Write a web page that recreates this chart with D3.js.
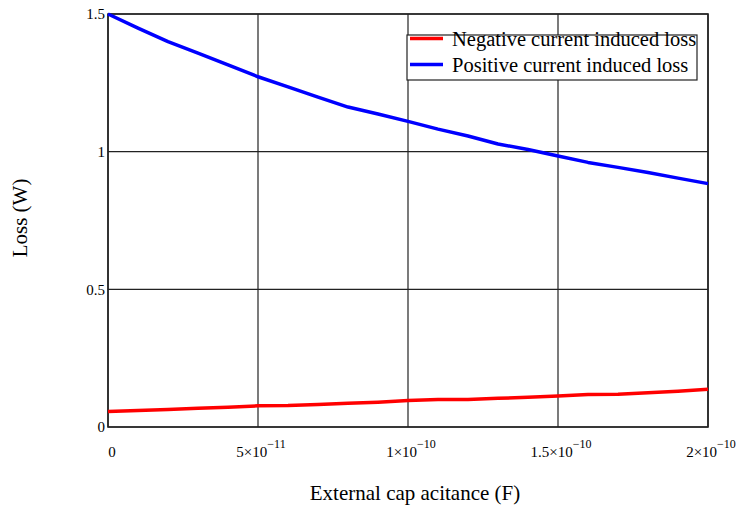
<!DOCTYPE html>
<html><head><meta charset="utf-8">
<script src="https://cdn.jsdelivr.net/npm/d3@7"></script>
<style>body{margin:0;background:#fff}svg{display:block}text{font-family:"Liberation Serif","Times New Roman",serif;fill:#000}</style>
</head><body><svg id="c" width="740" height="508"></svg>
<script>
const capacitance = d3.range(21).map(k => k * 1e-11);
const negativeLoss = [0.056,0.060,0.064,0.068,0.072,0.077,0.078,0.082,0.086,0.090,0.096,0.100,0.100,0.104,0.108,0.113,0.118,0.119,0.124,0.130,0.137];
const positiveLoss = [1.500,1.449,1.400,1.358,1.315,1.272,1.235,1.198,1.162,1.137,1.110,1.082,1.057,1.028,1.008,0.984,0.961,0.943,0.924,0.904,0.884];
const xTicks = [0, 5e-11, 1e-10, 1.5e-10, 2e-10];
const xTickMant = ["0","5","1","1.5","2"];
const xTickExp = ["","\u221211","\u221210","\u221210","\u221210"];
const yTicks = [0, 0.5, 1, 1.5];
const yTickLabels = ["0","0.5","1","1.5"];
const seriesNames = ["Negative current induced loss","Positive current induced loss"];
const seriesColors = ["#ff0000","#0000ff"];

const svg = d3.select("#c");
const L=108, R=708, T=14, B=427;
const x = d3.scaleLinear().domain([0,2e-10]).range([L,R]);
const y = d3.scaleLinear().domain([0,1.5]).range([B,T]);

// grid
svg.append("g").selectAll("line").data(xTicks).join("line")
  .attr("x1",d=>x(d)).attr("x2",d=>x(d)).attr("y1",T).attr("y2",B)
  .attr("stroke","#222").attr("stroke-width",1.2);
svg.append("g").selectAll("line").data(yTicks).join("line")
  .attr("y1",d=>y(d)).attr("y2",d=>y(d)).attr("x1",L).attr("x2",R)
  .attr("stroke","#222").attr("stroke-width",1.2);
svg.append("rect").attr("x",L).attr("y",T).attr("width",R-L).attr("height",B-T)
  .attr("fill","none").attr("stroke","#222").attr("stroke-width",1.6);

// y tick labels
svg.append("g").selectAll("text").data(yTicks).join("text")
  .attr("x",L-3).attr("y",d=>y(d)).attr("dy","0.35em").attr("text-anchor","end")
  .style("font-size","15px").text((d,i)=>yTickLabels[i]);

// x tick labels
const xt = svg.append("g").selectAll("text").data(xTicks).join("text")
  .attr("y",457).style("font-size","15px")
  .attr("text-anchor","middle");
xt.each(function(d,i){
  const t=d3.select(this);
  if(i===0){ t.attr("x",x(d)+4).text(xTickMant[i]); return; }
  t.attr("x",x(d)+3);
  t.append("tspan").text(xTickMant[i]+"\u00d710");
  t.append("tspan").attr("dy",-9).style("font-size","12px").text(xTickExp[i]);
});

// axis titles
svg.append("text").attr("x",415).attr("y",500).attr("text-anchor","middle")
  .style("font-size","21px").text("External cap acitance (F)");
svg.append("text").attr("transform","translate(27,218) rotate(-90)").attr("text-anchor","middle")
  .style("font-size","21px").text("Loss (W)");

// lines
const line = d3.line().x((d,i)=>x(capacitance[i])).y(d=>y(d));
[negativeLoss, positiveLoss].forEach((s,i)=>{
  svg.append("path").datum(s).attr("d",line).attr("fill","none")
    .attr("stroke",seriesColors[i]).attr("stroke-width",3.5).attr("stroke-linejoin","round");
});

// legend
const lg = svg.append("g");
lg.append("rect").attr("x",407).attr("y",35).attr("width",290).attr("height",45)
  .attr("fill","#fff").attr("stroke","#222").attr("stroke-width",1.2);
seriesNames.forEach((n,i)=>{
  const yy = 38.5 + i*26;
  lg.append("line").attr("x1",410).attr("x2",443).attr("y1",yy).attr("y2",yy)
    .attr("stroke",seriesColors[i]).attr("stroke-width",3.5);
  lg.append("text").attr("x",452).attr("y",yy+7)
    .style("font-size","20.5px").text(n);
});
</script></body></html>
